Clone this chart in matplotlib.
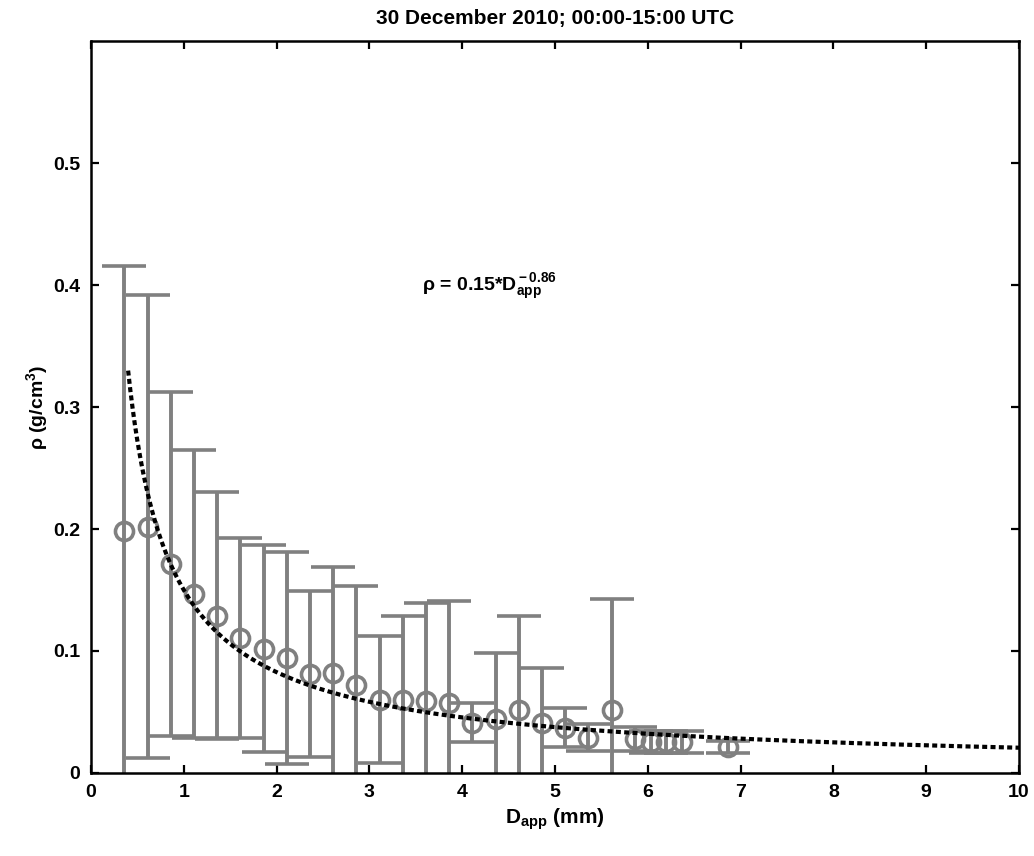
import matplotlib
matplotlib.use("Agg")
import matplotlib.pyplot as plt
import numpy as np

# Binned densities (mean and std)
d_app = [0.36, 0.61, 0.86, 1.11, 1.36, 1.61, 1.86, 2.11, 2.36, 2.61,
         2.86, 3.11, 3.36, 3.61, 3.86, 4.11, 4.36, 4.61, 4.86, 5.11,
         5.36, 5.61, 5.86, 6.03, 6.20, 6.37, 6.86]
rho_mean = [0.198, 0.202, 0.171, 0.147, 0.129, 0.111, 0.102, 0.094, 0.081, 0.082,
            0.072, 0.060, 0.060, 0.059, 0.057, 0.041, 0.044, 0.052, 0.041, 0.037,
            0.029, 0.052, 0.028, 0.025, 0.025, 0.025, 0.021]
rho_std = [0.218, 0.190, 0.141, 0.118, 0.101, 0.082, 0.085, 0.087, 0.068, 0.087,
           0.081, 0.052, 0.069, 0.080, 0.084, 0.016, 0.054, 0.077, 0.045, 0.016,
           0.011, 0.091, 0.010, 0.009, 0.009, 0.009, 0.005]

# power-law fit shown on the plot: rho = a * D^b
fit_a = 0.15
fit_b = -0.86
fit_range = (0.4, 10.0)

title = "30 December 2010; 00:00-15:00 UTC"
x_ticks = list(range(0, 11))
y_ticks = [0, 0.1, 0.2, 0.3, 0.4, 0.5]
y_ticklabels = ["0", "0.1", "0.2", "0.3", "0.4", "0.5"]

gray = "#808080"
plt.rcParams["font.family"] = ["Liberation Sans", "DejaVu Sans"]
plt.rcParams["font.weight"] = "bold"
plt.rcParams["mathtext.fontset"] = "custom"
plt.rcParams["mathtext.rm"] = "Liberation Sans:bold"
plt.rcParams["mathtext.it"] = "Liberation Sans:bold"
plt.rcParams["mathtext.bf"] = "Liberation Sans:bold"

fig = plt.figure(figsize=(10.34, 8.56), dpi=100)
ax = fig.add_axes([0.088, 0.097, 0.8975, 0.855])

ax.errorbar(d_app, rho_mean, yerr=rho_std, fmt="o", mfc="none", mec=gray,
            ms=13, mew=2.6, ecolor=gray, elinewidth=2.8, capsize=16,
            capthick=2.8, zorder=2)

xf = np.linspace(fit_range[0], fit_range[1], 400)
ax.plot(xf, fit_a * xf ** fit_b, color="black", lw=3,
        dashes=(1.2, 0.8), zorder=3)

ax.text(3.57, 0.395, r"$\rho$ = 0.15*D$_{\rm app}^{\rm -0.86}$", fontsize=14,
        fontweight="bold")

ax.set_xlim(0, 10)
ax.set_ylim(0, 0.6)
ax.set_xticks(x_ticks)
ax.set_yticks(y_ticks)
ax.set_yticklabels(y_ticklabels)
ax.tick_params(direction="in", top=True, right=True, length=6, width=1.6,
               labelsize=14, pad=8)
for s in ax.spines.values():
    s.set_linewidth(1.8)

ax.set_title(title, fontsize=15, fontweight="bold", pad=12)
ax.set_xlabel(r"D$_{\rm app}$ (mm)", fontsize=15, fontweight="bold", labelpad=4)
ax.set_ylabel(r"$\rho$ (g/cm$^{\rm 3}$)", fontsize=14, fontweight="bold", labelpad=2)

fig.savefig("out.png", dpi=100)
